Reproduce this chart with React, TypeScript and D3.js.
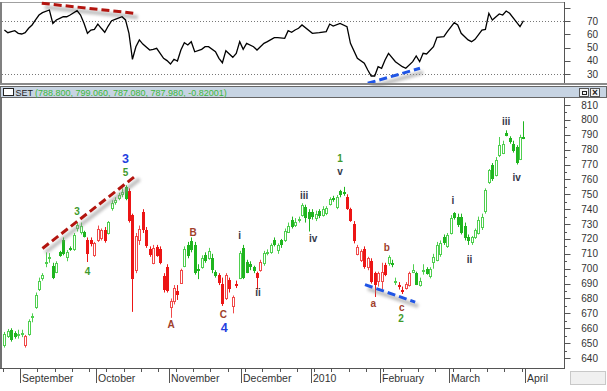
import React, { useEffect, useRef } from 'react';
import * as d3 from 'd3';

const W = 607;
const H = 391;

// daily SET candles, late Aug 2009 to end of March 2010
const opens = [
  648.5, 655, 659, 657, 655.5, 656, 648.5, 656, 667.5, 674, 686.5, 694, 703.5, 707.5, 701.5, 698, 711, 719, 708, 714,
  713, 727.5, 725, 724.5, 719, 719, 709, 719.5, 720.5, 726, 724, 740.5, 745, 747.5, 750, 755, 752, 736, 699, 719,
  738, 726, 713, 704, 714.5, 713.5, 695, 701, 674, 678, 685, 690.5, 702, 716, 718.5, 716, 699.5, 701, 709, 707,
  707, 697.5, 695.5, 690, 680, 692.5, 675, 689.5, 694, 714, 704.5, 703, 701, 697, 699, 703.5, 711, 711, 719, 712.5,
  719, 719.5, 725, 733, 729.5, 733, 736, 741.5, 738, 738, 734, 738.5, 736, 737.5, 743.5, 747.5, 741.5, 752, 751.5, 748.5,
  740, 730, 710, 706, 713.5, 701, 705, 697, 692, 692, 702.5, 703.5, 704, 691, 689, 686, 687, 689, 698, 697,
  689, 698.5, 700, 695, 704.5, 706, 710, 721.5, 715, 724, 737.5, 735, 735, 729, 721, 718, 721.5, 724, 728, 738.5,
  758.5, 769.5, 763, 776.5, 778, 791, 788, 784, 782, 774, 788.8,
];
const highs = [
  657.5, 659.5, 660, 658, 659, 659, 655.5, 666, 670, 684, 694, 697, 711, 710.5, 704, 705, 712, 721, 712.5, 715,
  724, 731, 731, 725.5, 721, 721, 718, 729, 727, 728, 732, 746, 748, 751, 754, 756, 754, 737, 724, 729,
  740, 728, 715, 716, 716, 715, 697, 703, 680, 689, 689, 700, 715, 718, 721, 718, 703, 709, 711, 714,
  710, 699, 697, 694, 697, 694, 682, 692, 712, 716, 706, 705, 702, 698, 706, 712, 713, 717, 721, 717,
  720, 727, 731, 735, 734, 735, 744, 743, 740, 740, 739, 740, 742, 742, 748, 749, 749.5, 753, 755, 750,
  741, 732, 716, 713, 715, 708, 707, 698, 698, 704, 704, 709, 706, 694, 691, 688, 691, 698, 703, 698,
  694, 703, 701, 701, 710, 718, 719, 723, 724, 736, 738, 737, 737, 731, 723, 722, 727, 735, 737, 754,
  767, 771, 775, 788.5, 786, 793, 789, 786, 783, 790, 799.06,
];
const lows = [
  647, 653.5, 651, 653, 653, 654, 647, 655, 664, 673, 685, 692, 701, 704, 693, 697, 708, 709, 705, 712,
  712, 725, 723, 721, 704.5, 715, 708, 718, 719, 717.5, 723, 739, 743, 746, 748, 746, 731, 671, 697, 716,
  724, 714, 708, 703, 708, 703, 684, 684, 667, 676, 679, 690, 701, 707, 711, 696, 693, 700, 704, 706,
  697, 694, 689, 675, 679, 684, 670, 687, 693, 693, 697, 699, 697, 686, 698, 702, 709, 710, 715, 710,
  714, 718, 724, 727, 728, 731, 735, 731, 725, 733, 732, 734, 735, 736, 742.5, 745, 740, 748, 749, 739.5,
  731.5, 717, 709, 704.5, 700, 699, 690, 681, 688, 686, 695, 702, 701, 689, 686, 683, 686, 688, 697, 689,
  688, 696, 696, 693.5, 700, 705, 708, 716, 714, 723, 733, 728, 723, 719, 716, 716, 720, 723, 726, 737,
  757, 759, 762, 775, 777, 789, 784, 778, 770, 773, 787.08,
];
const closes = [
  656, 658, 652.5, 654.5, 656, 657, 654.5, 665, 668, 682, 692, 695.5, 704.5, 708, 694.5, 703.5, 709.5, 710.5, 711, 713,
  722.5, 729.5, 729, 722, 710.5, 717, 717.5, 727, 726, 719.5, 731.5, 744, 746.5, 749.5, 751.5, 747.5, 733, 694, 722, 727,
  726.5, 716, 710, 714, 709, 704.5, 686.5, 686, 678.5, 687, 683, 699, 713.5, 709, 713, 698, 699, 707, 706, 712,
  700, 696, 691, 677, 695.5, 687, 681, 689, 710.5, 694.5, 698, 701.5, 699, 694.5, 704.5, 710.5, 711.5, 716, 716.5, 716,
  716.5, 725.5, 729, 729, 731.5, 733.5, 742.5, 735, 734, 735.5, 737, 736, 740, 741, 747, 747, 748.5, 750, 751, 741,
  733, 719, 714.5, 712, 701.5, 707, 692, 690, 697, 698, 696.5, 708, 703, 691.5, 688.5, 685.5, 689.5, 697, 699, 690,
  692, 699, 697, 700, 708, 716, 717, 718, 722.5, 734, 735, 730, 724.5, 721.5, 719, 721, 726, 733, 735, 753,
  766, 761, 773, 783, 784, 790, 785.5, 780, 772, 788.5, 787.98,
];

// runs of candles that the chart paints red
const redRuns = [[6, 6], [24, 29], [36, 51], [62, 67], [73, 74], [99, 110], [114, 117]];

const monthLabels = ['September', 'October', 'November', 'December', '2010', 'February', 'March', 'April'];
const monthStarts = [5, 27, 48, 69, 89, 109, 129, 151];
const priceTicks = [640, 650, 660, 670, 680, 690, 700, 710, 720, 730, 740, 750, 760, 770, 780, 790, 800, 810];
const rsiTicks = [30, 40, 50, 60, 70];

// RSI turning points (candle index, value)
const rsiIdx = [
  0, 1, 2, 3, 4, 5, 6, 7, 8, 9, 10, 11, 13, 14, 15, 16, 17, 18, 19, 21, 22, 23, 24, 25, 26, 27, 28, 29, 30, 31, 32, 34,
  35, 36, 37, 38, 39, 40, 42, 43, 44, 46, 47, 48, 49, 50, 51, 52, 53, 54, 55, 57, 58, 59, 61, 62, 63, 64, 66, 67, 68, 69,
  70, 72, 73, 75, 76, 78, 79, 81, 82, 83, 84, 85, 86, 89, 91, 93, 94, 95, 97, 99, 100, 102, 104, 105, 106, 107, 108, 109,
  110, 111, 113, 115, 116, 118, 119, 120, 121, 122, 124, 125, 127, 128, 130, 131, 132, 134, 135, 136, 138, 139, 140, 141,
  143, 144, 145, 146, 149, 150,
];
const rsiVal = [
  63.2, 61.2, 62, 62.7, 60.7, 60.2, 61.2, 64.5, 67, 70.8, 74.5, 76.3, 78.3, 68.2, 70.8, 72, 73.2, 73.2, 74.5, 77.8, 74.5,
  68.3, 60.7, 63.2, 63.7, 67.7, 64.5, 61.5, 66.2, 70.2, 71.3, 73.2, 70.8, 60.7, 41.1, 50.6, 55.7, 52.6, 48.1, 48.6, 49.4,
  41.8, 40.1, 37.5, 41.1, 39.8, 48.1, 53.6, 51.9, 54.4, 46.8, 48.6, 50.6, 50.6, 46.8, 41.8, 38.5, 47.6, 42.6, 45.6, 54.4,
  48.6, 53.1, 50.6, 48.1, 53.1, 54.4, 57.4, 57.4, 56.9, 62.7, 61.5, 63.2, 64.5, 67, 60.7, 61.2, 62, 67.7, 66.2, 68.2, 65.7,
  53.1, 41.8, 38.1, 33, 28.5, 28.5, 35.5, 34.3, 40.6, 45.6, 39.3, 35.5, 34.3, 39.3, 43.6, 39.3, 45.6, 45.1, 50.6, 57.7,
  58.2, 62, 68.7, 67, 60.7, 55.7, 54.4, 56.2, 63.2, 63.7, 75.8, 70.8, 75.3, 74.5, 77.5, 75.8, 65.7, 70.2,
];

// Elliott wave marks
const waveText = ['3', '5', '3', '4', 'B', 'A', 'i', 'ii', 'C', '4', 'iii', 'iv', '1', 'v', 'b', 'a', 'c', '2', 'i', 'ii', 'iii', 'iv'];
const waveIdx = [35, 35, 21, 24, 54.5, 48.2, 68, 73.3, 63.3, 63.5, 86.6, 89.2, 97, 97, 110.5, 106.6, 114.8, 114.6, 129.6, 134.4, 145, 148];
const wavePrice = [774, 764.5, 738.5, 698, 724, 662.5, 722, 684, 669, 660.5, 749, 720.5, 774, 765, 714.5, 676.5, 674, 666.5, 745.5, 706.5, 799, 761.5];
const waveKind = ['major', 'wave', 'wave', 'wave', 'abc', 'abc', 'sub', 'sub', 'abc', 'major', 'sub', 'sub', 'wave', 'sub', 'abc', 'abc', 'abc', 'wave', 'sub', 'sub', 'sub', 'sub'];

// divergence lines drawn on the chart
const priceLineIdx = [[11, 38.2], [104.2, 118.7]];
const priceLineVal = [[713.6, 762.9], [689.3, 677.6]];
const rsiLineIdx = [[10.8, 37.7], [105, 120.1]];
const rsiLineVal = [[83.4, 75.8], [23, 34.3]];
const lineColors = ['#b3150f', '#1f55e6'];

const headerText = '(788.800, 799.060, 787.080, 787.980, -0.82001)';

const FONT = '"Liberation Sans", Arial, sans-serif';

function App() {
  const svgRef = useRef<SVGSVGElement>(null);

  useEffect(() => {
    const svg = d3.select(svgRef.current);
    svg.selectAll('*').remove();

    const plotR = 564.5;
    const x = d3.scaleLinear().domain([-0.5, 150.5]).range([2.67, 525.2]);
    const yP = d3.scaleLinear().domain([640, 810]).range([358, 105]);
    const yR = d3.scaleLinear().domain([30, 70]).range([74, 21]);

    const defs = svg.append('defs');
    defs
      .append('filter')
      .attr('id', 'shadow')
      .attr('x', '-10%')
      .attr('y', '-50%')
      .attr('width', '120%')
      .attr('height', '200%')
      .append('feGaussianBlur')
      .attr('stdDeviation', 1.6);

    svg.append('rect').attr('width', W).attr('height', H).attr('fill', '#fff');

    // ---- RSI panel frame
    svg.append('line').attr('x1', 0).attr('x2', plotR).attr('y1', 2.5).attr('y2', 2.5).attr('stroke', '#a0a0a0');
    svg.append('line').attr('x1', 1).attr('x2', 1).attr('y1', 2).attr('y2', 84).attr('stroke', '#808080').attr('stroke-width', 2);
    svg.append('line').attr('x1', plotR).attr('x2', plotR).attr('y1', 2).attr('y2', 84).attr('stroke', '#555');

    rsiTicks.forEach(t => {
      svg.append('line').attr('x1', plotR).attr('x2', plotR + 6).attr('y1', Math.round(yR(t)) + 0.5).attr('y2', Math.round(yR(t)) + 0.5).attr('stroke', '#555');
      svg.append('text').attr('x', 598).attr('y', yR(t) + 3.5).attr('text-anchor', 'end')
        .style('font-family', FONT).style('font-size', '10px').attr('fill', '#333').text(t);
    });
    [80].forEach(t => {
      svg.append('line').attr('x1', plotR).attr('x2', plotR + 6).attr('y1', Math.round(yR(t)) + 0.5).attr('y2', Math.round(yR(t)) + 0.5).attr('stroke', '#555');
    });
    [70, 30].forEach(t => {
      svg.append('line').attr('x1', 2).attr('x2', plotR).attr('y1', Math.round(yR(t)) + 0.5).attr('y2', Math.round(yR(t)) + 0.5)
        .attr('stroke', '#777').attr('stroke-dasharray', '1,2');
    });

    // RSI dashed divergence lines (shadow first)
    rsiLineIdx.forEach((idx, k) => {
      const x1 = x(idx[0]), x2 = x(idx[1]), y1 = yR(rsiLineVal[k][0]), y2 = yR(rsiLineVal[k][1]);
      svg.append('line').attr('x1', x1 + 3).attr('x2', x2 + 3).attr('y1', y1 + 4).attr('y2', y2 + 4)
        .attr('stroke', '#8c8c8c').attr('stroke-width', 4).attr('opacity', 0.55).attr('filter', 'url(#shadow)');
      svg.append('line').attr('x1', x1).attr('x2', x2).attr('y1', y1).attr('y2', y2)
        .attr('stroke', lineColors[k]).attr('stroke-width', 3).attr('stroke-dasharray', '8,4');
    });

    const rsiLine = d3.line<number>().x((d, i) => x(rsiIdx[i])).y(d => yR(d));
    svg.append('path').attr('d', rsiLine(rsiVal)).attr('fill', 'none').attr('stroke', '#000').attr('stroke-width', 1.3);

    // separator and header bar
    svg.append('rect').attr('x', 0).attr('y', 83).attr('width', W).attr('height', 2).attr('fill', '#8a8a8a');
    svg.append('rect').attr('x', 0.5).attr('y', 86.5).attr('width', 606).attr('height', 11).attr('fill', '#c7d4e3').attr('stroke', '#666');
    svg.append('rect').attr('x', 3.5).attr('y', 88.5).attr('width', 10).attr('height', 7).attr('fill', '#fff').attr('stroke', '#222');
    svg.append('text').attr('x', 15.5).attr('y', 95.5).style('font-family', FONT).style('font-size', '9px').attr('fill', '#222').text('SET');
    svg.append('text').attr('x', 35).attr('y', 95.5).style('font-family', FONT).style('font-size', '9px').attr('fill', '#3cb83c').text(headerText);
    svg.append('rect').attr('x', 579.5).attr('y', 88.5).attr('width', 9).attr('height', 8).attr('fill', '#f4f4f4').attr('stroke', '#555');
    svg.append('rect').attr('x', 582.5).attr('y', 91.5).attr('width', 4).attr('height', 3).attr('fill', 'none').attr('stroke', '#222');
    svg.append('rect').attr('x', 590.5).attr('y', 88.5).attr('width', 9).attr('height', 8).attr('fill', '#f4f4f4').attr('stroke', '#555');
    svg.append('text').attr('x', 595).attr('y', 96).attr('text-anchor', 'middle').style('font-family', FONT)
      .style('font-size', '10px').style('font-weight', 'bold').attr('fill', '#222').text('×');

    // ---- price panel frame and axes
    svg.append('line').attr('x1', 1).attr('x2', 1).attr('y1', 98).attr('y2', 369).attr('stroke', '#707070').attr('stroke-width', 2);
    svg.append('line').attr('x1', plotR).attr('x2', plotR).attr('y1', 98).attr('y2', 369).attr('stroke', '#555');
    svg.append('line').attr('x1', 0).attr('x2', plotR).attr('y1', 368.5).attr('y2', 368.5).attr('stroke', '#555');

    d3.range(640, 815, 5).forEach(t => {
      const yy = Math.round(yP(t)) + 0.5;
      const major = t % 10 === 0;
      svg.append('line').attr('x1', plotR).attr('x2', plotR + (major ? 6 : 2.5)).attr('y1', yy).attr('y2', yy).attr('stroke', '#555');
    });
    priceTicks.forEach(t => {
      svg.append('text').attr('x', 598).attr('y', yP(t) + 3.5).attr('text-anchor', 'end')
        .style('font-family', FONT).style('font-size', '10px').attr('fill', '#333').text(t);
    });

    d3.range(0, 152, 5).forEach(i => {
      const xx = Math.round(x(i - 0.5)) + 0.5;
      svg.append('line').attr('x1', xx).attr('x2', xx).attr('y1', 368).attr('y2', 372).attr('stroke', '#555');
    });
    monthStarts.forEach((s, k) => {
      const xx = Math.round(x(s - 0.5)) + 0.5;
      svg.append('line').attr('x1', xx).attr('x2', xx).attr('y1', 368).attr('y2', 383).attr('stroke', '#555');
      svg.append('text').attr('x', xx + 1.5).attr('y', 381.5).style('font-family', FONT).style('font-size', '10.5px')
        .attr('fill', '#333').text(monthLabels[k]);
    });
    svg.append('rect').attr('x', 570.5).attr('y', 371.5).attr('width', 35).attr('height', 13).attr('fill', '#f0f0f0').attr('stroke', '#c8c8c8');

    // ---- candles
    const isRed = (i: number) => redRuns.some(r => i >= r[0] && i <= r[1]);
    opens.forEach((o, i) => {
      const c = closes[i];
      const red = isRed(i);
      const filled = c < o;
      const col = red ? (filled ? '#ec1515' : '#f04a4a') : filled ? '#1fb51f' : '#4fcf4f';
      const px = Math.round(x(i));
      svg.append('line').attr('x1', px + 0.5).attr('x2', px + 0.5).attr('y1', yP(highs[i])).attr('y2', yP(lows[i]))
        .attr('stroke', col).attr('stroke-width', 1);
      const top = Math.round(yP(Math.max(o, c))) + 0.5;
      const bot = Math.round(yP(Math.min(o, c))) + 0.5;
      svg.append('rect').attr('x', px - 0.5).attr('y', top).attr('width', 2).attr('height', Math.max(1, bot - top))
        .attr('fill', filled ? col : '#fff').attr('stroke', col).attr('stroke-width', 1);
    });

    // dashed trend lines on price
    priceLineIdx.forEach((idx, k) => {
      const x1 = x(idx[0]), x2 = x(idx[1]), y1 = yP(priceLineVal[k][0]), y2 = yP(priceLineVal[k][1]);
      svg.append('line').attr('x1', x1 + 3).attr('x2', x2 + 3).attr('y1', y1 + 4).attr('y2', y2 + 4)
        .attr('stroke', '#8c8c8c').attr('stroke-width', 4).attr('opacity', 0.55).attr('filter', 'url(#shadow)');
      svg.append('line').attr('x1', x1).attr('x2', x2).attr('y1', y1).attr('y2', y2)
        .attr('stroke', lineColors[k]).attr('stroke-width', 3).attr('stroke-dasharray', '8,4');
    });

    // wave labels
    const kindColor: Record<string, string> = { major: '#1f3fe0', wave: '#3f9a2c', abc: '#a0402c', sub: '#33384a' };
    waveText.forEach((t, k) => {
      const kind = waveKind[k];
      svg.append('text').attr('x', x(waveIdx[k])).attr('y', yP(wavePrice[k]) + (kind === 'major' ? 4.5 : 3.5))
        .attr('text-anchor', 'middle').style('font-family', FONT)
        .style('font-size', kind === 'major' ? '12.5px' : '10px').style('font-weight', 'bold')
        .attr('fill', kindColor[kind]).text(t);
    });
  }, []);

  return (
    <svg ref={svgRef} width={W} height={H} style={{ position: 'absolute', left: 0, top: 0, display: 'block' }} />
  );
}

export default App;
